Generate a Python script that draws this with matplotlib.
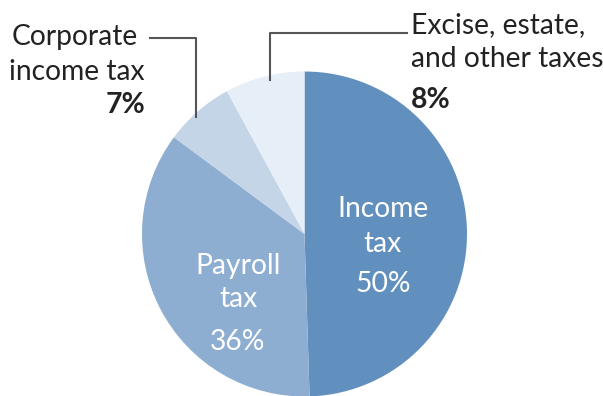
import matplotlib.pyplot as plt

labels = ["Income tax", "Payroll tax", "Corporate income tax", "Excise, estate, and other taxes"]
shares = [50, 36, 7, 8]
pct_text = ["50%", "36%", "7%", "8%"]
colors = ["#6190bf", "#8eaed1", "#c4d5e7", "#e6eef7"]

plt.rcParams["font.family"] = ["Lato", "DejaVu Sans"]

fig = plt.figure(figsize=(6.03, 3.96), dpi=100)
ax = fig.add_axes([0, 0, 1, 1])

H = 396  # work in pixel coords from top
cx, cy, r = 304.5, H - 234, 162.5
ax.pie(shares, colors=colors, startangle=90, counterclock=False,
       center=(cx, cy), radius=r, frame=True,
       wedgeprops=dict(linewidth=0))
ax.set_xlim(0, 603)
ax.set_ylim(0, H)
ax.set_aspect("equal")
ax.axis("off")

txt = "#222222"
fs = 20.3


def line(x, ytop, s, **kw):
    ax.text(x, H - ytop, s, fontsize=fs, va="baseline", **kw)


# inside labels
line(383, 217, "Income", color="white", ha="center")
line(383, 252, "tax", color="white", ha="center")
line(383, 292, pct_text[0], color="white", ha="center")
line(238, 274, "Payroll", color="white", ha="center")
line(238, 307, "tax", color="white", ha="center")
line(238, 350, pct_text[1], color="white", ha="center")

# corporate label + leader
line(138, 45, "Corporate", color=txt, ha="right")
line(145, 80, "income tax", color=txt, ha="right")
line(145, 113, pct_text[2], color=txt, ha="right", fontweight="bold")
ax.plot([150, 196, 196], [H - 38, H - 38, H - 117], color="#555555", lw=1.5)

# excise label + leader
line(411, 33, "Excise, estate,", color=txt, ha="left")
line(411, 67, "and other taxes", color=txt, ha="left")
line(411, 108, pct_text[3], color=txt, ha="left", fontweight="bold")
ax.plot([270, 270, 407], [H - 80, H - 33, H - 33], color="#555555", lw=1.5)

fig.savefig("out.png", dpi=100, facecolor="white")
